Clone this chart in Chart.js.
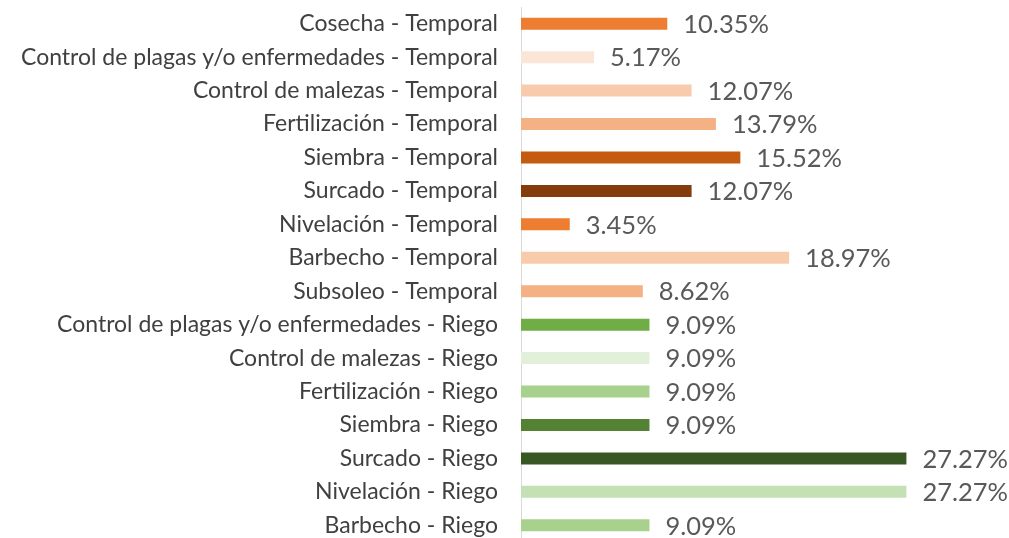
<!DOCTYPE html>
<html>
<head>
<meta charset="utf-8">
<script src="https://cdn.jsdelivr.net/npm/chart.js@4/dist/chart.umd.min.js"></script>
<style>
  html, body { margin: 0; padding: 0; background: #ffffff; overflow: hidden; }
</style>
</head>
<body>
<canvas id="chart" width="1009" height="542"></canvas>
<script>
// Labores por tipo de siembra (porcentaje)
const categories = [
  "Cosecha - Temporal",
  "Control de plagas y/o enfermedades - Temporal",
  "Control de malezas - Temporal",
  "Fertilización - Temporal",
  "Siembra - Temporal",
  "Surcado - Temporal",
  "Nivelación - Temporal",
  "Barbecho - Temporal",
  "Subsoleo - Temporal",
  "Control de plagas y/o enfermedades - Riego",
  "Control de malezas - Riego",
  "Fertilización - Riego",
  "Siembra - Riego",
  "Surcado - Riego",
  "Nivelación - Riego",
  "Barbecho - Riego"
];
const percentages = [10.35, 5.17, 12.07, 13.79, 15.52, 12.07, 3.45, 18.97, 8.62,
                     9.09, 9.09, 9.09, 9.09, 27.27, 27.27, 9.09];
const barColors = [
  "#ED7D31", "#FBE5D6", "#F8CBAD", "#F4B183", "#C55A11", "#843C0C", "#ED7D31", "#F8CBAD", "#F4B183",
  "#70AD47", "#E2F0D9", "#A9D18E", "#548235", "#385723", "#C5E0B4", "#A9D18E"
];

const FONT = "Lato, 'Open Sans', sans-serif";

// Writes the value with a % sign to the right of each bar
const valueLabels = {
  id: "valueLabels",
  afterDatasetsDraw(chart) {
    const ctx = chart.ctx;
    const meta = chart.getDatasetMeta(0);
    ctx.save();
    ctx.font = "25.5px " + FONT;
    ctx.fillStyle = "#595959";
    ctx.textAlign = "left";
    ctx.textBaseline = "middle";
    meta.data.forEach((bar, i) => {
      ctx.fillText(percentages[i].toFixed(2) + "%", bar.x + 16, bar.y + 1);
    });
    ctx.restore();
  }
};

new Chart(document.getElementById("chart"), {
  type: "bar",
  data: {
    labels: categories,
    datasets: [{
      data: percentages,
      backgroundColor: barColors,
      borderWidth: 0,
      barPercentage: 0.36,
      categoryPercentage: 1
    }]
  },
  options: {
    indexAxis: "y",
    responsive: false,
    animation: false,
    layout: { padding: { top: 7, right: 64, bottom: 0, left: 0 } },
    plugins: { legend: { display: false }, tooltip: { enabled: false } },
    scales: {
      x: { display: false, min: 0, max: 30 },
      y: {
        afterFit(scale) { scale.width = 521; scale.paddingTop = 0; scale.paddingBottom = 0; },
        grid: { display: false, drawTicks: false },
        border: { display: true, color: "#D9D9D9", width: 1 },
        ticks: {
          color: "#404040",
          padding: 23,
          autoSkip: false,
          font: { family: FONT, size: 23 }
        }
      }
    }
  },
  plugins: [valueLabels]
});
</script>
</body>
</html>
